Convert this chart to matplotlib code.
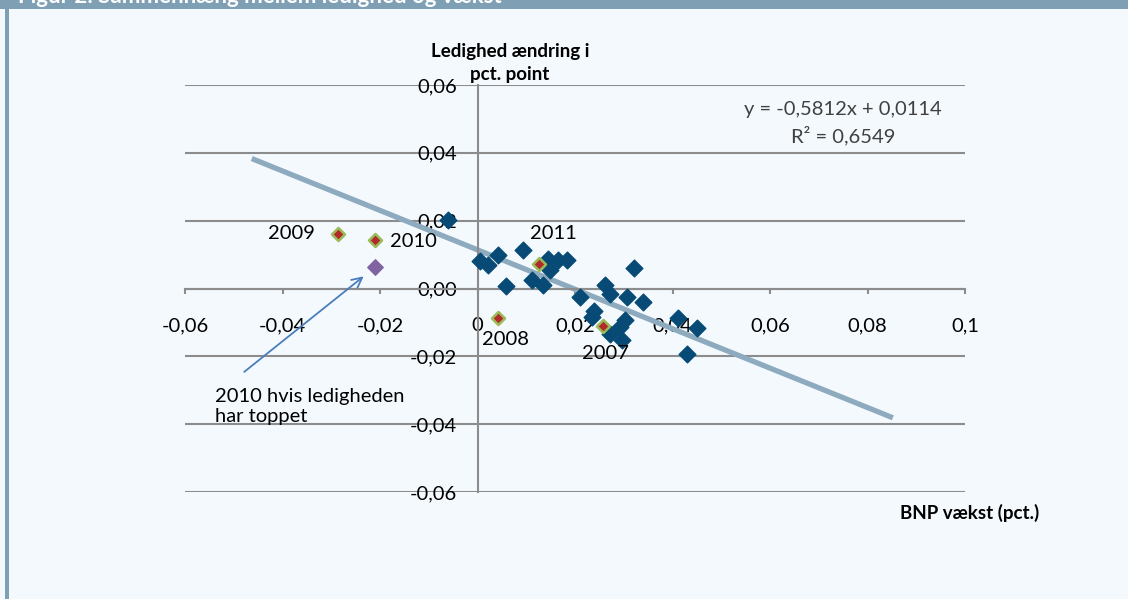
import matplotlib.pyplot as plt
from matplotlib.patches import Rectangle

plt.rcParams['font.family'] = ['Lato', 'DejaVu Sans']

# BNP vaekst vs. aendring i ledighed (historiske aar)
gdp = [-0.0060, 0.0005, 0.0022, 0.0043, 0.0058, 0.0094, 0.0111, 0.0135, 0.0145,
       0.0149, 0.0166, 0.0183, 0.0210, 0.0238, 0.0234, 0.0262, 0.0272, 0.0272,
       0.0292, 0.0303, 0.0296, 0.0306, 0.0320, 0.0340, 0.0412, 0.0450, 0.0429]
unemp = [0.0203, 0.0080, 0.0068, 0.0099, 0.0006, 0.0114, 0.0026, 0.0009, 0.0087,
         0.0055, 0.0085, 0.0085, -0.0024, -0.0067, -0.0083, 0.0009, -0.0016, -0.0134,
         -0.0114, -0.0094, -0.0153, -0.0026, 0.0060, -0.0040, -0.0088, -0.0116, -0.0193]

# fremhaevede aar
years = ['2009', '2010', '2011', '2008', '2007']
years_gdp = [-0.0286, -0.0210, 0.0127, 0.0043, 0.0257]
years_unemp = [0.0161, 0.0144, 0.0073, -0.0088, -0.0111]
year_offsets = [(-17, 0, 'right'), (11, -1, 'left'), (10, 22, 'center'),
                (5, -15, 'center'), (2, -20, 'center')]

# 2010 hvis ledigheden har toppet
peak_gdp = -0.0210
peak_unemp = 0.0063

# trendlinje
slope = -0.5812
intercept = 0.0114
trend_x = [-0.0463, 0.0852]

xticks = [-0.06, -0.04, -0.02, 0, 0.02, 0.04, 0.06, 0.08, 0.1]
xticklabels = ['-0,06', '-0,04', '-0,02', '0', '0,02', '0,04', '0,06', '0,08', '0,1']
yticks = [-0.06, -0.04, -0.02, 0.0, 0.02, 0.04, 0.06]
yticklabels = ['-0,06', '-0,04', '-0,02', '0,00', '0,02', '0,04', '0,06']

bg = '#f4f9fd'
band = '#7fa0b4'
grid_col = '#8c8c8c'

W, H = 1128, 599
fig = plt.figure(figsize=(W / 100, H / 100), dpi=100, facecolor=bg)

# ramme: top-bjaelke og venstre kant
fig.patches.append(Rectangle((0, 1 - 9 / H), 1, 9 / H, transform=fig.transFigure,
                             facecolor=band, edgecolor='none', zorder=0))
fig.patches.append(Rectangle((5 / W, 0), 4 / W, 1 - 9 / H, transform=fig.transFigure,
                             facecolor=band, edgecolor='none', zorder=0))
fig.text(18 / W, 1 - 3 / H, 'Figur 2: Sammenhæng mellem ledighed og vækst',
         color='white', fontsize=16, fontweight='bold', va='baseline', ha='left')

ax = fig.add_axes([185 / W, 1 - 492 / H, 780 / W, 407 / H])
ax.set_facecolor('none')
ax.set_xlim(-0.06, 0.1)
ax.set_ylim(-0.06, 0.06)

for s in ['top', 'right']:
    ax.spines[s].set_visible(False)
ax.spines['left'].set_position(('data', 0))
ax.spines['bottom'].set_position(('data', 0))
for s in ['left', 'bottom']:
    ax.spines[s].set_color(grid_col)
    ax.spines[s].set_linewidth(1.5)

ax.set_xticks(xticks)
ax.set_xticklabels(xticklabels)
ax.set_yticks(yticks)
ax.set_yticklabels(yticklabels)
ax.tick_params(axis='x', direction='out', length=3.6, width=1.5, color=grid_col,
               labelsize=14.5, pad=17, labelcolor='black')
ax.tick_params(axis='y', length=0, labelsize=14.5, pad=15, labelcolor='black')
ax.yaxis.grid(True, color=grid_col, linewidth=1.5)
ax.set_axisbelow(True)

# trendlinje
ax.plot(trend_x, [slope * x + intercept for x in trend_x], color='#8eaabe',
        linewidth=3.8, solid_capstyle='butt', zorder=2)

ax.scatter(gdp, unemp, marker='D', s=72, color='#064a75', zorder=3)
ax.scatter(years_gdp, years_unemp, marker='D', s=44, color='#b22a2a',
           edgecolors='#9bbb59', linewidths=1.8, zorder=4)
ax.scatter([peak_gdp], [peak_unemp], marker='D', s=62, color='#8064a2', zorder=4)

for lab, xv, yv, (dx, dy, ha) in zip(years, years_gdp, years_unemp, year_offsets):
    ax.annotate(lab, (xv, yv), xytext=(dx, dy), textcoords='offset points',
                ha=ha, va='center', fontsize=14.5)

ax.annotate('', xy=(-0.0229, 0.0041), xytext=(-0.0483, -0.0251),
            arrowprops=dict(arrowstyle='->', color='#4a7ebb', lw=1.3,
                            mutation_scale=18), zorder=5)
ax.text(-0.0538, -0.0347, '2010 hvis ledigheden\nhar toppet', ha='left', va='center',
        fontsize=14.5, linespacing=1.2)

ax.text(843 / W, 1 - 110 / H, 'y = -0,5812x + 0,0114', transform=fig.transFigure,
        ha='center', va='center', fontsize=14.5, color='#404040')
ax.text(843 / W, 1 - 136 / H, 'R² = 0,6549', transform=fig.transFigure,
        ha='center', va='center', fontsize=14.5, color='#404040')

fig.text(510 / W, 1 - 63 / H, 'Ledighed ændring i\npct. point', ha='center',
         va='center', fontsize=13.5, fontweight='bold', linespacing=1.45)
fig.text(970 / W, 1 - 513 / H, 'BNP vækst (pct.)', ha='center', va='center',
         fontsize=13.5, fontweight='bold')

fig.savefig('out.png', dpi=100, facecolor=bg)
